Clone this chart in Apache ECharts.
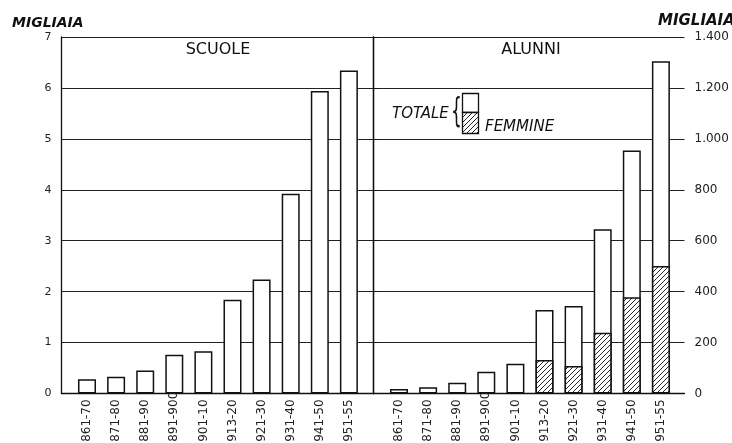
<!DOCTYPE html>
<html><head><meta charset="utf-8">
<script src="https://cdn.jsdelivr.net/npm/echarts@6/dist/echarts.min.js"></script>
<style>html,body{margin:0;padding:0;background:#fff}#c{width:732px;height:443px}</style>
</head><body><div id="c"></div>
<script>
const categories = ['1861-70','1871-80','1881-90','1891-900','1901-10','1913-20','1921-30','1931-40','1941-50','1951-55'];
const schools = [0.28, 0.33, 0.45, 0.76, 0.83, 1.84, 2.24, 3.92, 5.94, 6.34];
const pupilsTotal = [18, 25, 42, 85, 117, 328, 344, 645, 954, 1305];
const pupilsFemale = [null, null, null, null, null, 132, 108, 239, 378, 501];
const leftTicks = ['0','1','2','3','4','5','6','7'];
const rightTicks = ['0','200','400','600','800','1.000','1.200','1.400'];

function hatch(){
  const c=document.createElement('canvas'); c.width=c.height=5;
  const g=c.getContext('2d'); g.fillStyle='#fff'; g.fillRect(0,0,5,5);
  g.strokeStyle='#111'; g.lineWidth=0.9; g.beginPath();
  g.moveTo(0,5); g.lineTo(5,0); g.moveTo(-1,1); g.lineTo(1,-1); g.moveTo(4,6); g.lineTo(6,4);
  g.stroke(); return c;
}
const pat = {image: hatch(), repeat: 'repeat'};
const FONT = 'DejaVu Sans';
const gTop = 37, gBottom = 443-393.5;
const catAxis = (gi) => ({type:'category', gridIndex:gi, data:categories,
  axisLine:{show:false}, axisTick:{show:false},
  axisLabel:{rotate:90, margin:56, align:'left', verticalAlign:'middle', fontSize:12, color:'#222', fontFamily:FONT}});
const frameX = (gi) => ({type:'value', gridIndex:gi, min:0, max:1,
  axisLine:{show:true, onZero:false, lineStyle:{color:'#111', width:1.3}},
  axisTick:{show:false}, axisLabel:{show:false}, splitLine:{show:false}});
const G = (l, w) => ({left:l, width:w, top:gTop, bottom:gBottom, containLabel:false, outerBoundsMode:'none'});

const chart = echarts.init(document.getElementById('c'), null, {renderer:'canvas'});
chart.setOption({
  animation:false,
  backgroundColor:'#fff',
  grid:[G(61.5, 312), G(373.5, 311), G(72.45, 291), G(384.45, 291)],
  xAxis:[frameX(0), frameX(1), catAxis(2), catAxis(3)],
  yAxis:[
    {type:'value', gridIndex:0, position:'left', min:0, max:7, interval:1,
     axisLine:{show:true, lineStyle:{color:'#111', width:1.3}}, axisTick:{show:false},
     axisLabel:{margin:10, fontSize:11, color:'#222', fontFamily:FONT, formatter:(v,i)=>leftTicks[i]},
     splitLine:{show:true, lineStyle:{color:'#222', width:1}}},
    {type:'value', gridIndex:0, position:'right', min:0, max:7, interval:1,
     axisLine:{show:true, lineStyle:{color:'#111', width:1.3}}, axisTick:{show:false},
     axisLabel:{show:false}, splitLine:{show:false}},
    {type:'value', gridIndex:1, position:'right', min:0, max:1400, interval:200,
     axisLine:{show:true, lineStyle:{color:'#111', width:1.3}},
     axisTick:{show:true, length:6, lineStyle:{color:'#111', width:1}},
     axisLabel:{margin:10, fontSize:12, color:'#222', fontFamily:FONT, formatter:(v,i)=>rightTicks[i]},
     splitLine:{show:true, lineStyle:{color:'#222', width:1}}},
    {type:'value', gridIndex:2, min:0, max:7, interval:1, show:false},
    {type:'value', gridIndex:3, min:0, max:1400, interval:200, show:false}
  ],
  series:[
    {type:'bar', name:'SCUOLE', xAxisIndex:2, yAxisIndex:3, data:schools, barWidth:18,
     itemStyle:{color:'#fff', borderColor:'#111', borderWidth:1.5}},
    {type:'bar', name:'TOTALE', xAxisIndex:3, yAxisIndex:4, data:pupilsTotal, barWidth:18, barGap:'-100%',
     itemStyle:{color:'#fff', borderColor:'#111', borderWidth:1.5}},
    {type:'bar', name:'FEMMINE', xAxisIndex:3, yAxisIndex:4, data:pupilsFemale, barWidth:18, barGap:'-100%',
     itemStyle:{color:pat, borderColor:'#111', borderWidth:1.5}}
  ],
  graphic:[
    {type:'text', left:12, top:16, style:{text:'MIGLIAIA', font:'italic bold 14px "DejaVu Sans"', fill:'#111'}},
    {type:'text', x:658, y:14, style:{text:'MIGLIAIA', font:'italic bold 15px "DejaVu Sans"', fill:'#111'}},
    {type:'text', x:218, y:50, style:{text:'SCUOLE', font:'16px "DejaVu Sans"', fill:'#111', align:'center', verticalAlign:'middle'}},
    {type:'text', x:531, y:50, style:{text:'ALUNNI', font:'16px "DejaVu Sans"', fill:'#111', align:'center', verticalAlign:'middle'}},
    {type:'text', x:392, y:114, style:{text:'TOTALE', font:'italic 15px "DejaVu Sans"', fill:'#111', verticalAlign:'middle'}},
    {type:'text', x:451, y:113, scaleX:0.5, style:{text:'{', font:'34px "DejaVu Sans"', fill:'#111', verticalAlign:'middle'}},
    {type:'rect', shape:{x:462.5, y:93.5, width:16, height:19}, style:{fill:'#fff', stroke:'#111', lineWidth:1.3}},
    {type:'rect', shape:{x:462.5, y:112.5, width:16, height:21}, style:{fill:pat, stroke:'#111', lineWidth:1.3}},
    {type:'text', x:485, y:127, style:{text:'FEMMINE', font:'italic 15px "DejaVu Sans"', fill:'#111', verticalAlign:'middle'}}
  ]
});
</script></body></html>
